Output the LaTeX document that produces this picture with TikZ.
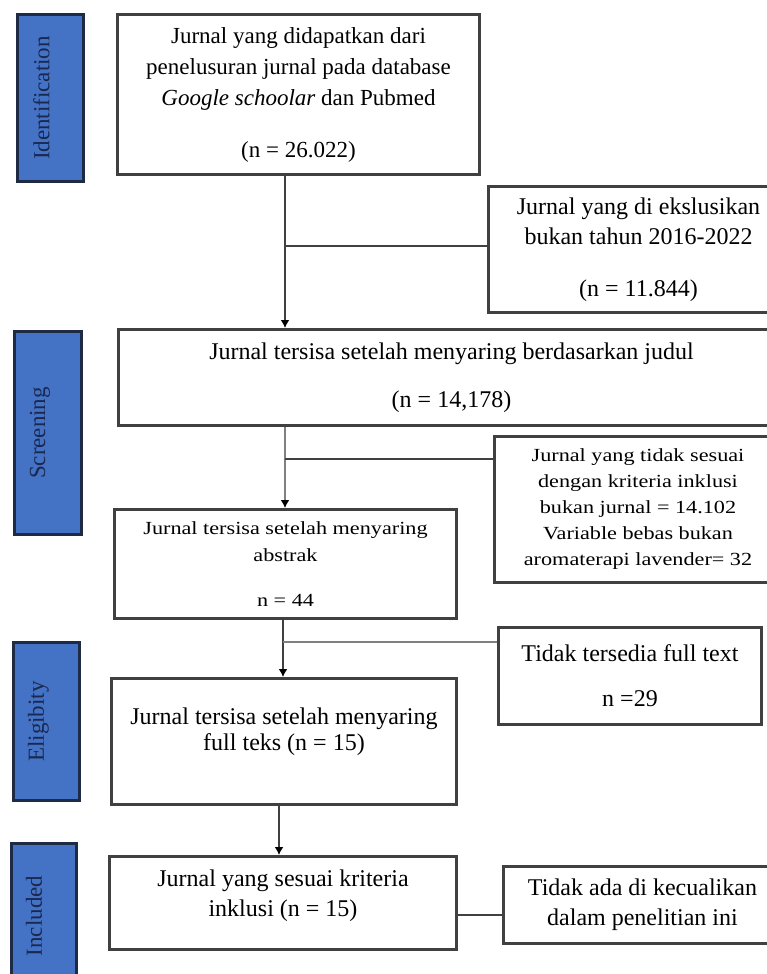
\documentclass[tikz,border=0pt]{standalone}
\usepackage{fontspec}
\setmainfont{Liberation Serif}
\newfontfamily\widefont[FakeStretch=1.2]{Liberation Serif}
\usetikzlibrary{arrows.meta}
\definecolor{lineclr}{HTML}{404040}
\definecolor{sideblue}{HTML}{4472C4}
\definecolor{sidenavy}{HTML}{1F2A44}
\definecolor{sidetxt}{HTML}{1A2850}
\begin{document}
\begin{tikzpicture}[x=1pt,y=-1pt,
    flowbox/.style={draw=lineclr,line width=3pt,anchor=north west,align=center,inner sep=0pt,text=black},
    boxtext/.style={align=center,inner sep=0pt,text=black},
    sidebox/.style={draw=sidenavy,fill=sideblue,line width=3pt,anchor=north west},
    sidetext/.style={rotate=90,inner sep=0pt,text=sidetxt,font=\fontsize{23}{26}\selectfont},
    link/.style={draw=lineclr,line width=2.2pt},
    arr/.style={link,-{Latex[length=8pt,width=9pt,color=black]}}]
    \useasboundingbox (0,0) rectangle (767,974);
    % stage labels
    \node[sidebox,minimum width=66pt,minimum height=167pt] (sideid) at (16,13) {};
    \node[sidebox,minimum width=67pt,minimum height=203pt] (sidescr) at (13,330) {};
    \node[sidebox,minimum width=66pt,minimum height=158pt] (sideelig) at (12,641) {};
    \node[sidebox,minimum width=65pt,minimum height=145pt] (sideinc) at (10,842) {};
    \node[sidetext] (sideidtxt) at ([xshift=-9pt]sideid.center) {Identification};
    \node[sidetext] (sidescrtxt) at ([xshift=-8pt]sidescr.center) {Screening};
    \node[sidetext] (sideeligtxt) at ([xshift=-8pt]sideelig.center) {Eligibity};
    \node[sidetext] (sideinctxt) at ([xshift=-10pt]sideinc.center) {Included};
    % main boxes
    \node[flowbox,minimum width=362pt,minimum height=160pt,font=\fontsize{23}{31}\selectfont] (box1) at (116,13)
        {Jurnal yang didapatkan dari\\penelusuran jurnal pada database\\\textit{Google schoolar} dan Pubmed\\[21pt](n = 26.022)};
    \node[flowbox,minimum width=666pt,minimum height=96pt,font=\fontsize{24}{31}\selectfont] (box2) at (117,328)
        {Jurnal tersisa setelah menyaring berdasarkan judul\\[17pt](n = 14,178)};
    \node[flowbox,minimum width=342pt,minimum height=109pt,font=\widefont\fontsize{18.5}{27}\selectfont] (box3) at (113,508)
        {Jurnal tersisa setelah menyaring\\abstrak\\[18pt]n = 44};
    \node[flowbox,minimum width=345pt,minimum height=126pt] (box4) at (110,677) {};
    \node[boxtext,font=\fontsize{24}{26}\selectfont] (box4txt) at ([yshift=10pt]box4.center)
        {Jurnal tersisa setelah menyaring\\full teks (n = 15)};
    \node[flowbox,minimum width=347pt,minimum height=93pt] (box5) at (108,855) {};
    \node[boxtext,font=\fontsize{24}{30}\selectfont] (box5txt) at ([yshift=7pt]box5.center)
        {Jurnal yang sesuai kriteria\\inklusi (n = 15)};
    % excluded boxes
    \node[flowbox,minimum width=300pt,minimum height=126pt,font=\fontsize{24}{30}\selectfont] (excl1) at (487,185)
        {Jurnal yang di ekslusikan\\bukan tahun 2016-2022\\[22pt](n = 11.844)};
    \node[flowbox,minimum width=287pt,minimum height=146pt,font=\widefont\fontsize{18.5}{26}\selectfont] (excl2) at (493,435)
        {Jurnal yang tidak sesuai\\dengan kriteria inklusi\\bukan jurnal = 14.102\\Variable bebas bukan\\aromaterapi lavender= 32};
    \node[flowbox,minimum width=263pt,minimum height=97pt,font=\fontsize{24}{30}\selectfont] (excl3) at (497,626)
        {Tidak tersedia full text\\[15pt]n =29};
    \node[flowbox,minimum width=278pt,minimum height=77pt,font=\fontsize{24}{30}\selectfont] (excl4) at (502,865)
        {Tidak ada di kecualikan\\dalam penelitian ini};
    % connectors
    \coordinate (j1) at (285,246);
    \draw[arr] (j1 |- box1.south) -- (j1 |- box2.north);
    \draw[link] (j1) -- (j1 -| excl1.west);
    \coordinate (j2) at (285,459);
    \draw[arr,draw=gray] (j2 |- box2.south) -- (j2 |- box3.north);
    \draw[link] (j2) -- (j2 -| excl2.west);
    \coordinate (j3) at (283,642);
    \draw[arr] (j3 |- box3.south) -- (j3 |- box4.north);
    \draw[link,draw=gray] (j3) -- (j3 -| excl3.west);
    \coordinate (j4) at (279,830);
    \draw[arr] (j4 |- box4.south) -- (j4 |- box5.north);
    \coordinate (j5) at (480,915);
    \draw[link] (j5 -| box5.east) -- (j5 -| excl4.west);
\end{tikzpicture}
\end{document}
